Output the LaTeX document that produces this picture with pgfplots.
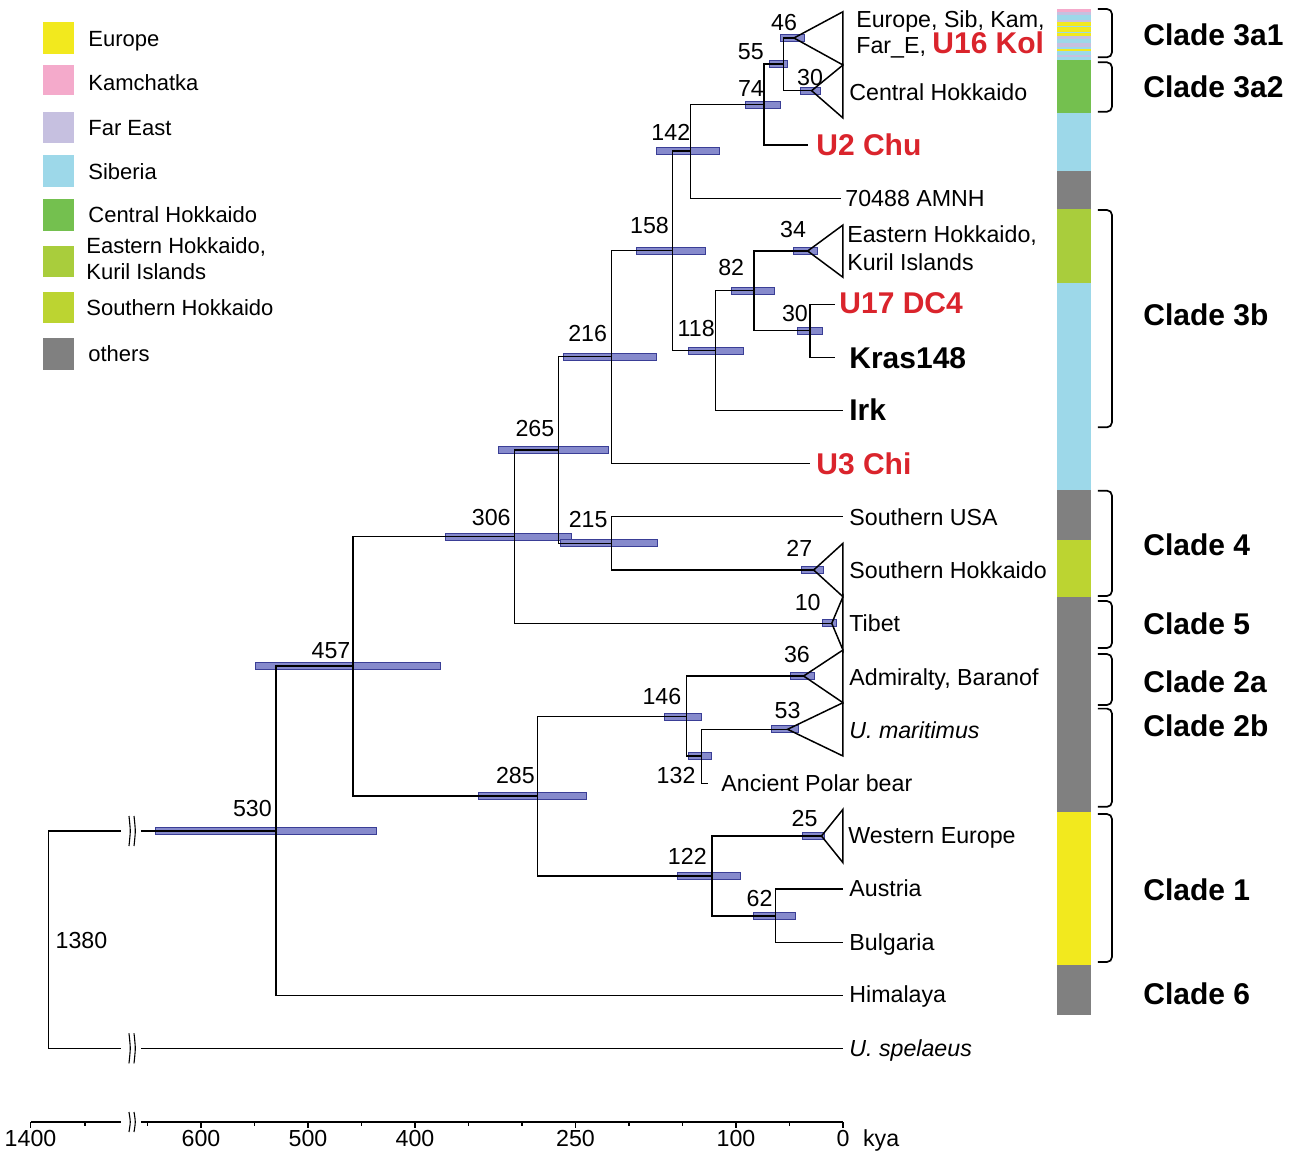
\documentclass[border=0pt]{standalone}
\usepackage{pgfplots}
\pgfplotsset{compat=1.18}
\usepackage{fontspec}
\setmainfont{Liberation Sans}

\definecolor{ceurope}{RGB}{242,233,30}
\definecolor{ckam}{RGB}{244,170,203}
\definecolor{cfar}{RGB}{198,192,224}
\definecolor{csib}{RGB}{157,216,233}
\definecolor{ccent}{RGB}{116,192,79}
\definecolor{ceast}{RGB}{169,205,60}
\definecolor{csouth}{RGB}{188,212,49}
\definecolor{cother}{RGB}{128,128,128}
\definecolor{myred}{RGB}{218,36,44}
\definecolor{barfill}{RGB}{134,138,204}
\definecolor{baredge}{RGB}{58,62,150}

\newcommand{\nsize}{\fontsize{11.6}{13}\selectfont}
\newcommand{\lsize}{\fontsize{11}{13}\selectfont}
\newcommand{\bsize}{\fontsize{15}{17}\selectfont}

\tikzset{
  lab/.style={anchor=base west, inner sep=0pt, font=\nsize},
  leg/.style={anchor=base west, inner sep=0pt, font=\lsize},
  blab/.style={anchor=base west, inner sep=0pt, font=\bsize\bfseries},
  num/.style={anchor=base, inner sep=0pt, font=\nsize},
  tree/.style={black, line width=0.75pt, line join=miter},
  hpdbar/.style={fill=barfill, draw=baredge, line width=0.45pt},
  brk/.style={black, line width=0.55pt, smooth},
  bracket/.style={black, line width=0.85pt, rounded corners=2.5pt},
}

% HPD bar: older end, younger end, row
\newcommand{\hpd}[3]{%
  \pgfmathsetmacro\hpdlo{#3-3.4}%
  \pgfmathsetmacro\hpdhi{#3+3.4}%
  \edef\hpdtmp{\noexpand\addplot[hpdbar] coordinates {(#1,\hpdlo) (#2,\hpdlo) (#2,\hpdhi) (#1,\hpdhi)} -- cycle;}%
  \hpdtmp}
% rectangle: style, x1, x2, y1, y2
\newcommand{\rect}[5]{\addplot[#1] coordinates {(#2,#4) (#3,#4) (#3,#5) (#2,#5)} -- cycle;}

\begin{document}
\begin{tikzpicture}
\begin{axis}[
  name=main,
  width=648pt, height=575.5pt, scale only axis,
  x dir=reverse, y dir=reverse,
  xmin=-423.36, xmax=787.85,
  ymin=0, ymax=1151,
  hide axis, clip=false,
  unbounded coords=jump,
  no markers,
]

% ---- legend squares ----
\rect{fill=ceurope, draw=none}{747.9}{718.7}{21.7}{54}
\rect{fill=ckam, draw=none}{747.9}{718.7}{64.7}{95}
\rect{fill=cfar, draw=none}{747.9}{718.7}{111.7}{143.3}
\rect{fill=csib, draw=none}{747.9}{718.7}{155}{186.7}
\rect{fill=ccent, draw=none}{747.9}{718.7}{199}{230.7}
\rect{fill=ceast, draw=none}{747.9}{718.7}{245.7}{277.3}
\rect{fill=csouth, draw=none}{747.9}{718.7}{291.7}{323.3}
\rect{fill=cother, draw=none}{747.9}{718.7}{338.3}{370}

% ---- colour strip ----
\rect{fill=ckam, draw=none}{-200.3}{-231.5}{9.3}{11.7}
\rect{fill=cfar, draw=none}{-200.3}{-231.5}{11.7}{15}
\rect{fill=csib, draw=none}{-200.3}{-231.5}{15}{20}
\rect{fill=cfar, draw=none}{-200.3}{-231.5}{20}{21.7}
\rect{fill=ceurope, draw=none}{-200.3}{-231.5}{21.7}{26}
\rect{fill=csib, draw=none}{-200.3}{-231.5}{26}{27.3}
\rect{fill=ceurope, draw=none}{-200.3}{-231.5}{27.3}{31.7}
\rect{fill=csib, draw=none}{-200.3}{-231.5}{31.7}{33.3}
\rect{fill=ceurope, draw=none}{-200.3}{-231.5}{33.3}{36}
\rect{fill=cfar, draw=none}{-200.3}{-231.5}{36}{39.3}
\rect{fill=csib, draw=none}{-200.3}{-231.5}{39.3}{43.3}
\rect{fill=cfar, draw=none}{-200.3}{-231.5}{43.3}{46.7}
\rect{fill=csib, draw=none}{-200.3}{-231.5}{46.7}{49.3}
\rect{fill=ceurope, draw=none}{-200.3}{-231.5}{49.3}{50.7}
\rect{fill=csib, draw=none}{-200.3}{-231.5}{50.7}{55}
\rect{fill=cfar, draw=none}{-200.3}{-231.5}{55}{57.3}
\rect{fill=csib, draw=none}{-200.3}{-231.5}{57.3}{60}
\rect{fill=ccent, draw=none}{-200.3}{-231.5}{60}{113.3}
\rect{fill=csib, draw=none}{-200.3}{-231.5}{113.3}{171}
\rect{fill=cother, draw=none}{-200.3}{-231.5}{171}{209.3}
\rect{fill=ceast, draw=none}{-200.3}{-231.5}{209.3}{283.3}
\rect{fill=csib, draw=none}{-200.3}{-231.5}{283.3}{490}
\rect{fill=cother, draw=none}{-200.3}{-231.5}{490}{539.6}
\rect{fill=csouth, draw=none}{-200.3}{-231.5}{539.6}{597}
\rect{fill=cother, draw=none}{-200.3}{-231.5}{597}{812}
\rect{fill=ceurope, draw=none}{-200.3}{-231.5}{812}{964.6}
\rect{fill=cother, draw=none}{-200.3}{-231.5}{964.6}{1014.6}

% ---- brackets ----
\addplot[bracket] coordinates {(-238.3,9) (-251.4,9) (-251.4,57.3) (-238.3,57.3)};
\addplot[bracket] coordinates {(-238.3,62.3) (-251.4,62.3) (-251.4,111.7) (-238.3,111.7)};
\addplot[bracket] coordinates {(-238.3,210) (-251.4,210) (-251.4,427.3) (-238.3,427.3)};
\addplot[bracket] coordinates {(-238.3,490.7) (-251.4,490.7) (-251.4,596) (-238.3,596)};
\addplot[bracket] coordinates {(-238.3,601) (-251.4,601) (-251.4,648) (-238.3,648)};
\addplot[bracket] coordinates {(-238.3,654) (-251.4,654) (-251.4,705) (-238.3,705)};
\addplot[bracket] coordinates {(-238.3,708.6) (-251.4,708.6) (-251.4,806.8) (-238.3,806.8)};
\addplot[bracket] coordinates {(-238.3,814) (-251.4,814) (-251.4,962) (-238.3,962)};

% ---- HPD bars ----
\hpd{58.9}{36.4}{38}
\hpd{69.2}{52.3}{64}
\hpd{40.2}{21.5}{90.7}
\hpd{91.6}{58.9}{104.7}
\hpd{174.1}{115.6}{151}
\hpd{192.8}{129}{250.7}
\hpd{46.4}{24}{251}
\hpd{104}{64.2}{290.7}
\hpd{42.7}{19.3}{330.7}
\hpd{144.6}{93.2}{350.7}
\hpd{261.7}{174.8}{356.7}
\hpd{322.4}{219.6}{450}
\hpd{372}{253.5}{536.7}
\hpd{263.9}{173.1}{543.3}
\hpd{38.7}{18}{570}
\hpd{19}{5.9}{623.3}
\hpd{549.5}{376.6}{666}
\hpd{49.2}{26.3}{676}
\hpd{166.4}{132.1}{716.7}
\hpd{66.8}{41.3}{729.3}
\hpd{144.9}{123.2}{756}
\hpd{341.1}{239.4}{796}
\hpd{37.8}{16.9}{836}
\hpd{154.7}{95.9}{876}
\hpd{83.3}{44.1}{916}
\hpd{642.5}{435.9}{831}

% ---- tree branches ----
\addplot[tree] coordinates {
(45.8,38) (55.8,38) (55.8,90.7) (29.3,90.7) (nan,nan)
(55.8,64) (73.8,64) (73.8,145) (32.7,145) (nan,nan)
(73.8,104.7) (142.3,104.7) (142.3,198.3) (2,198.3) (nan,nan)
(142.3,151) (159.2,151) (159.2,350.7) (119,350.7) (nan,nan)
(159.2,250.7) (216.2,250.7) (216.2,463.3) (30.8,463.3) (nan,nan)
(83.2,290.7) (119,290.7) (119,410.7) (0,410.7) (nan,nan)
(33,251) (83.2,251) (83.2,330.7) (30.8,330.7) (nan,nan)
(7.5,304.3) (30.8,304.3) (30.8,357.3) (7.5,357.3) (nan,nan)
(216.2,356.7) (265.8,356.7) (265.8,543.3) (216.3,543.3) (nan,nan)
(0,516.7) (216.3,516.7) (216.3,570) (27.4,570) (nan,nan)
(265.8,450) (307.1,450) (307.1,623.3) (10.5,623.3) (nan,nan)
(307.1,536.7) (458,536.7) (458,796) (285.4,796) (nan,nan)
(146.4,716.7) (285.4,716.7) (285.4,876) (122.4,876) (nan,nan)
(36.8,676) (146.4,676) (146.4,756) (132.1,756) (nan,nan)
(51.8,729.3) (132.1,729.3) (132.1,783.3) (126.2,783.3) (nan,nan)
(20.1,836) (122.4,836) (122.4,916) (63.1,916) (nan,nan)
(0,889) (63.1,889) (63.1,942.3) (0,942.3) (nan,nan)
(458,666) (530,666) (530,995.7) (0,995.7) (nan,nan)
(674.8,831) (742.3,831) (742.3,1048.3) (674.8,1048.3) (nan,nan)
(656.1,831) (530,831) (nan,nan)
(656.1,1048.3) (0,1048.3)
};
% collapsed clades
\addplot[tree] coordinates {(0,11.7) (45.8,38) (0,65)} -- cycle;
\addplot[tree] coordinates {(0,65) (29.3,90.7) (0,118)} -- cycle;
\addplot[tree] coordinates {(0,225) (33,251) (0,277.3)} -- cycle;
\addplot[tree] coordinates {(0,543.3) (27.4,570) (0,596.7)} -- cycle;
\addplot[tree] coordinates {(0,596.7) (10.5,623.3) (0,650)} -- cycle;
\addplot[tree] coordinates {(0,650) (36.8,676) (0,702.7)} -- cycle;
\addplot[tree] coordinates {(0,702.7) (51.8,729.3) (0,756)} -- cycle;
\addplot[tree] coordinates {(0,809.3) (20.1,836) (0,862.7)} -- cycle;

% break marks on root branches
\addplot[brk] coordinates {(667.3,816) (666.1,831) (667.3,846)};
\addplot[brk] coordinates {(662.6,816) (661.4,831) (662.6,846)};
\addplot[brk] coordinates {(667.3,1033.3) (666.1,1048.3) (667.3,1063.3)};
\addplot[brk] coordinates {(662.6,1033.3) (661.4,1048.3) (662.6,1063.3)};

% ---- time axis ----
\addplot[black, line width=0.75pt] coordinates {(759.3,1122) (674.8,1122) (nan,nan) (656.1,1122) (0,1122)};
\addplot[black, line width=0.75pt] coordinates {
(759.3,1122) (759.3,1128) (nan,nan) (708.4,1122) (708.4,1126) (nan,nan)
(650,1122) (650,1126) (nan,nan) (600,1122) (600,1128) (nan,nan)
(550,1122) (550,1126) (nan,nan) (500,1122) (500,1128) (nan,nan)
(450,1122) (450,1126) (nan,nan) (400,1122) (400,1128) (nan,nan)
(350,1122) (350,1126) (nan,nan) (300,1122) (300,1126) (nan,nan)
(250,1122) (250,1128) (nan,nan) (200,1122) (200,1126) (nan,nan)
(150,1122) (150,1126) (nan,nan) (100,1122) (100,1128) (nan,nan)
(50,1122) (50,1126) (nan,nan) (0,1122) (0,1128)
};
\addplot[brk] coordinates {(667.3,1112) (666.1,1122) (667.3,1132)};
\addplot[brk] coordinates {(662.6,1112) (661.4,1122) (662.6,1132)};

\node[num] at (axis cs:759.3,1146) {1400};
\node[num] at (axis cs:600,1146) {600};
\node[num] at (axis cs:500,1146) {500};
\node[num] at (axis cs:400,1146) {400};
\node[num] at (axis cs:250,1146) {250};
\node[num] at (axis cs:100,1146) {100};
\node[num] at (axis cs:0,1146) {0};
\node[lab] at (axis cs:-18.4,1146) {kya};

% ---- legend text ----
\node[leg] at (axis cs:705.6,46.7) {Europe};
\node[leg] at (axis cs:705.6,90.7) {Kamchatka};
\node[leg] at (axis cs:705.6,135) {Far East};
\node[leg] at (axis cs:705.6,179.3) {Siberia};
\node[leg] at (axis cs:705.6,222.7) {Central Hokkaido};
\node[leg] at (axis cs:707.5,253.3) {Eastern Hokkaido,};
\node[leg] at (axis cs:707.5,279.3) {Kuril Islands};
\node[leg] at (axis cs:707.5,315) {Southern Hokkaido};
\node[leg] at (axis cs:705.6,361.7) {others};

% ---- node ages ----
\node[num] at (axis cs:55.0,30.7) {46};
\node[num] at (axis cs:86.2,59.3) {55};
\node[num] at (axis cs:30.8,85) {30};
\node[num] at (axis cs:86.0,96.7) {74};
\node[num] at (axis cs:160.9,140) {142};
\node[num] at (axis cs:180.8,233.3) {158};
\node[num] at (axis cs:46.7,237.3) {34};
\node[num] at (axis cs:104.5,275) {82};
\node[num] at (axis cs:44.9,321.7) {30};
\node[num] at (axis cs:137.2,336.7) {118};
\node[num] at (axis cs:238.6,341.7) {216};
\node[num] at (axis cs:287.9,436.5) {265};
\node[num] at (axis cs:328.7,525) {306};
\node[num] at (axis cs:238.2,527.3) {215};
\node[num] at (axis cs:40.8,556.7) {27};
\node[num] at (axis cs:33,610) {10};
\node[num] at (axis cs:478.5,658.3) {457};
\node[num] at (axis cs:43,662.7) {36};
\node[num] at (axis cs:169.2,704) {146};
\node[num] at (axis cs:51.8,718.3) {53};
\node[num] at (axis cs:156,783.3) {132};
\node[num] at (axis cs:306.2,783.3) {285};
\node[num] at (axis cs:551.9,816.7) {530};
\node[num] at (axis cs:35.9,826.7) {25};
\node[num] at (axis cs:145.5,864) {122};
\node[num] at (axis cs:77.9,906.7) {62};
\node[num] at (axis cs:711.7,948.3) {1380};

% ---- tip labels ----
\node[lab] at (axis cs:-12.1,27.5) {Europe, Sib, Kam,};
\node[lab] at (axis cs:-12.1,53.5) {Far\_E, \textcolor{myred}{\bsize\bfseries U16 Kol}};
\node[lab] at (axis cs:-5.6,100) {Central Hokkaido};
\node[blab, text=myred] at (axis cs:25.2,155) {U2 Chu};
\node[lab] at (axis cs:-1.9,206) {70488 AMNH};
\node[lab] at (axis cs:-3.7,242.7) {Eastern Hokkaido,};
\node[lab] at (axis cs:-3.7,270) {Kuril Islands};
\node[blab, text=myred] at (axis cs:3.7,313.3) {U17 DC4};
\node[blab] at (axis cs:-5.6,368.3) {Kras148};
\node[blab] at (axis cs:-5.6,420) {Irk};
\node[blab, text=myred] at (axis cs:25.2,474) {U3 Chi};
\node[lab] at (axis cs:-5.6,525) {Southern USA};
\node[lab] at (axis cs:-5.6,578.3) {Southern Hokkaido};
\node[lab] at (axis cs:-5.6,631.7) {Tibet};
\node[lab] at (axis cs:-5.6,685) {Admiralty, Baranof};
\node[lab] at (axis cs:-5.6,738.3) {\itshape U. maritimus};
\node[lab] at (axis cs:114,791.7) {Ancient Polar bear};
\node[lab] at (axis cs:-4.7,843.3) {Western Europe};
\node[lab] at (axis cs:-5.6,896.7) {Austria};
\node[lab] at (axis cs:-5.6,950) {Bulgaria};
\node[lab] at (axis cs:-5.6,1002.7) {Himalaya};
\node[lab] at (axis cs:-5.6,1056.7) {\itshape U. spelaeus};

% ---- clade labels ----
\node[blab] at (axis cs:-280.4,45) {Clade 3a1};
\node[blab] at (axis cs:-280.4,97.5) {Clade 3a2};
\node[blab] at (axis cs:-280.4,325) {Clade 3b};
\node[blab] at (axis cs:-280.4,555) {Clade 4};
\node[blab] at (axis cs:-280.4,634) {Clade 5};
\node[blab] at (axis cs:-280.4,692) {Clade 2a};
\node[blab] at (axis cs:-280.4,736) {Clade 2b};
\node[blab] at (axis cs:-280.4,900) {Clade 1};
\node[blab] at (axis cs:-280.4,1004) {Clade 6};
\end{axis}
\pgfresetboundingbox
\path[use as bounding box] (main.south west) rectangle (main.north east);
\end{tikzpicture}
\end{document}
